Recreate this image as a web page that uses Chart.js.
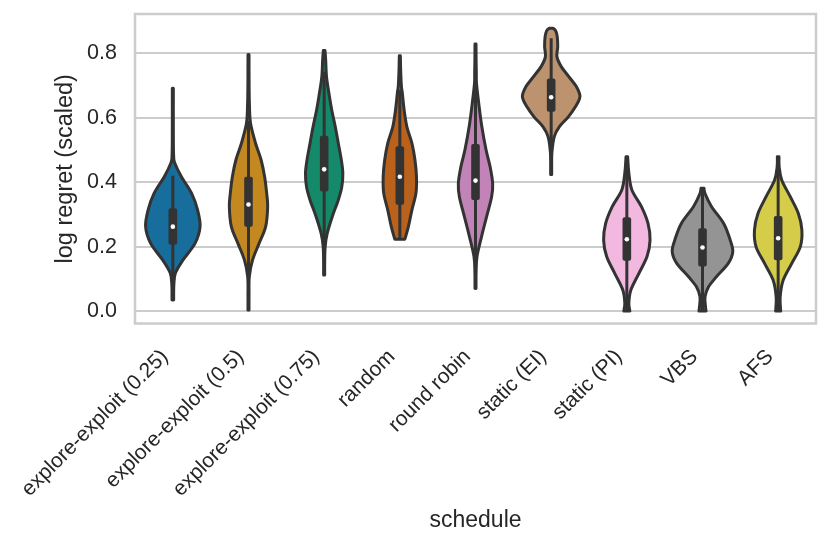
<!DOCTYPE html>
<html>
<head>
<meta charset="utf-8">
<script src="https://cdn.jsdelivr.net/npm/chart.js@4.4.0/dist/chart.umd.min.js"></script>
<style>
html,body{margin:0;padding:0;background:#ffffff;}
#wrap{width:830px;height:547px;}
</style>
</head>
<body>
<div id="wrap"><canvas id="c" width="830" height="547"></canvas></div>
<script>
// ---------- data ----------
const categories = ['explore-exploit (0.25)', 'explore-exploit (0.5)', 'explore-exploit (0.75)', 'random', 'round robin', 'static (EI)', 'static (PI)', 'VBS', 'AFS'];
const medians     = [0.262, 0.331, 0.440, 0.417, 0.405, 0.664, 0.223, 0.197, 0.226];
const q1Values    = [0.206, 0.262, 0.371, 0.330, 0.345, 0.619, 0.156, 0.138, 0.158];
const q3Values    = [0.319, 0.417, 0.544, 0.512, 0.519, 0.722, 0.291, 0.257, 0.295];
const whiskerLow  = [0.034, 0.030, 0.112, 0.223, 0.085, 0.470, 0.000, 0.000, 0.000];
const whiskerHigh = [0.420, 0.590, 0.743, 0.686, 0.727, 0.847, 0.479, 0.381, 0.479];
// density profile of each violin: value levels and relative half widths (1 = widest violin)
const densityLevels = [
  [0.692,0.55,0.48,0.459,0.417,0.366,0.314,0.262,0.21,0.158,0.117,0.08,0.034],
  [0.797,0.70,0.634,0.583,0.521,0.469,0.417,0.366,0.324,0.262,0.21,0.158,0.107,0.05,0.003],
  [0.809,0.78,0.728,0.676,0.624,0.572,0.521,0.469,0.428,0.386,0.345,0.293,0.241,0.2,0.15,0.112],
  [0.793,0.75,0.70,0.676,0.624,0.572,0.521,0.469,0.417,0.366,0.314,0.262,0.223],
  [0.829,0.78,0.74,0.707,0.645,0.572,0.5,0.448,0.396,0.355,0.293,0.231,0.169,0.12,0.07],
  [0.878,0.87,0.852,0.821,0.79,0.759,0.728,0.697,0.666,0.634,0.603,0.572,0.541,0.49,0.448,0.424],
  [0.479,0.469,0.428,0.376,0.324,0.272,0.22,0.169,0.117,0.065,0.024,0.0],
  [0.381,0.365,0.324,0.272,0.22,0.184,0.148,0.107,0.075,0.044,0.013,0.0],
  [0.479,0.448,0.407,0.355,0.303,0.252,0.2,0.148,0.096,0.044,0.0]
];
const densityWidths = [
  [0.017,0.017,0.027,0.067,0.283,0.617,0.817,0.9,0.733,0.333,0.083,0.033,0.027],
  [0.017,0.02,0.033,0.067,0.233,0.417,0.533,0.6,0.633,0.567,0.35,0.133,0.027,0.017,0.017],
  [0.027,0.05,0.077,0.157,0.25,0.367,0.467,0.567,0.617,0.583,0.467,0.267,0.1,0.033,0.017,0.017],
  [0.017,0.027,0.05,0.083,0.143,0.233,0.4,0.5,0.55,0.533,0.4,0.283,0.167],
  [0.017,0.02,0.027,0.033,0.107,0.21,0.35,0.483,0.567,0.533,0.367,0.2,0.05,0.02,0.017],
  [0.067,0.15,0.2,0.217,0.19,0.333,0.583,0.833,0.95,0.8,0.567,0.267,0.1,0.023,0.017,0.017],
  [0.027,0.033,0.067,0.167,0.483,0.7,0.767,0.667,0.4,0.133,0.067,0.1],
  [0.05,0.083,0.3,0.7,0.917,1.0,0.85,0.467,0.2,0.083,0.1,0.117],
  [0.027,0.033,0.117,0.4,0.667,0.783,0.733,0.45,0.167,0.067,0.083]
];
const yTickValues = [0.0, 0.2, 0.4, 0.6, 0.8];
const yMin = -0.0388, yMax = 0.9224;

// ---------- styles ----------
const violinColors = ['#176D9C','#C38820','#158A6A','#BA611B','#C283B6','#BD926E','#F2B8E0','#949494','#D5CD4A'];
const darkGray = '#333333';
const textColor = '#262626';
const gridColor = '#cccccc';
const FONT = "'Liberation Sans', Arial, sans-serif";

function spline(ctx, P) {
  for (let k = 0; k < P.length - 1; k++) {
    const p0 = P[Math.max(k - 1, 0)], p1 = P[k], p2 = P[k + 1], p3 = P[Math.min(k + 2, P.length - 1)];
    ctx.bezierCurveTo(
      p1[0] + (p2[0] - p0[0]) / 6, p1[1] + (p2[1] - p0[1]) / 6,
      p2[0] - (p3[0] - p1[0]) / 6, p2[1] - (p3[1] - p1[1]) / 6,
      p2[0], p2[1]);
  }
}

const violinPlugin = {
  id: 'violins',
  beforeDatasetsDraw(chart) {
    const ctx = chart.ctx, xs = chart.scales.x, ys = chart.scales.y, a = chart.chartArea;
    ctx.save();
    // frame
    ctx.strokeStyle = gridColor;
    ctx.lineWidth = 2.5;
    ctx.strokeRect(a.left, a.top, a.right - a.left, a.bottom - a.top);
    const band = xs.getPixelForValue(1) - xs.getPixelForValue(0);
    const maxHalf = 0.4 * band;
    categories.forEach((cat, i) => {
      const cx = xs.getPixelForValue(i);
      const lv = densityLevels[i], dw = densityWidths[i];
      const pts = lv.map((v, k) => [dw[k] * maxHalf, ys.getPixelForValue(v)]);
      const right = pts.map(p => [cx + p[0], p[1]]);
      const left = pts.slice().reverse().map(p => [cx - p[0], p[1]]);
      ctx.beginPath();
      ctx.moveTo(cx - pts[0][0], pts[0][1]);
      ctx.lineTo(right[0][0], right[0][1]);
      spline(ctx, right);
      ctx.lineTo(left[0][0], left[0][1]);
      spline(ctx, left);
      ctx.closePath();
      ctx.fillStyle = violinColors[i];
      ctx.fill();
      ctx.lineWidth = 3;
      ctx.lineJoin = 'round';
      ctx.strokeStyle = darkGray;
      ctx.stroke();
      // whisker
      ctx.beginPath();
      ctx.lineWidth = 3;
      ctx.lineCap = 'butt';
      ctx.moveTo(cx, ys.getPixelForValue(whiskerLow[i]));
      ctx.lineTo(cx, ys.getPixelForValue(whiskerHigh[i]));
      ctx.stroke();
      // box
      const yt = ys.getPixelForValue(q3Values[i]), yb = ys.getPixelForValue(q1Values[i]);
      ctx.fillStyle = darkGray;
      ctx.beginPath();
      if (ctx.roundRect) ctx.roundRect(cx - 4.3, yt, 8.6, yb - yt, 2);
      else ctx.rect(cx - 4.3, yt, 8.6, yb - yt);
      ctx.fill();
    });
    ctx.restore();
  }
};

new Chart(document.getElementById('c'), {
  type: 'line',
  data: {
    labels: categories,
    datasets: [{
      data: medians,
      showLine: false,
      pointRadius: 2.3,
      pointHoverRadius: 2.3,
      pointBackgroundColor: '#ffffff',
      pointBorderWidth: 0
    }]
  },
  options: {
    responsive: false,
    animation: false,
    devicePixelRatio: 1,
    layout: { padding: { top: 14, right: 14, bottom: 0, left: 0 } },
    plugins: { legend: { display: false }, tooltip: { enabled: false } },
    scales: {
      x: {
        type: 'category',
        offset: true,
        grid: { display: false, drawTicks: false },
        border: { display: false },
        ticks: {
          autoSkip: false, minRotation: 45, maxRotation: 45,
          padding: 21, labelOffset: -8,
          color: textColor, font: { family: FONT, size: 21 }
        },
        title: {
          display: true, text: 'schedule', color: textColor,
          font: { family: FONT, size: 23 }, padding: { top: 0, bottom: 13 }
        },
        afterFit(s) { s.height = 223.5; s.paddingLeft = 0; s.paddingRight = 0; }
      },
      y: {
        min: yMin, max: yMax,
        grid: { color: gridColor, lineWidth: 2, drawTicks: false },
        border: { display: false },
        afterBuildTicks(s) { s.ticks = yTickValues.map(v => ({ value: v })); },
        ticks: {
          padding: 18, color: textColor, font: { family: FONT, size: 21.5 },
          callback: (v) => Number(v).toFixed(1)
        },
        title: {
          display: true, text: 'log regret (scaled)', color: textColor,
          font: { family: FONT, size: 23.5 }, padding: { top: 51, bottom: 0 }
        },
        afterFit(s) { s.width = 135; s.paddingTop = 0; s.paddingBottom = 0; }
      }
    }
  },
  plugins: [violinPlugin]
});
</script>
</body>
</html>
